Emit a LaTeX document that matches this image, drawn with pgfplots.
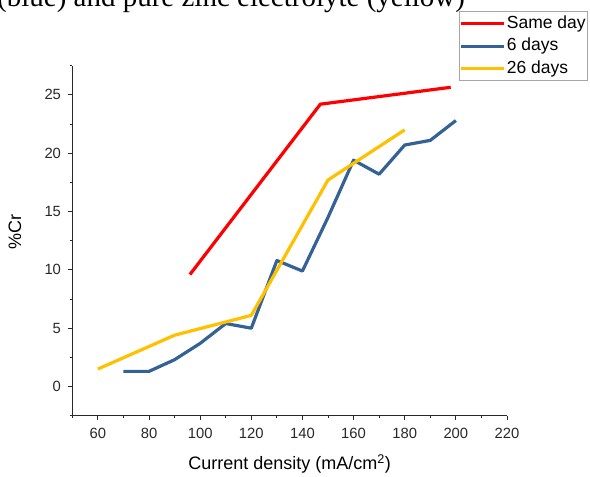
\documentclass[border=0pt]{standalone}
\usepackage{pgfplots}
\pgfplotsset{compat=1.18}
\usepackage{fontspec}
\setmainfont{Liberation Sans}
\newfontfamily\captionserif{Liberation Serif}

\definecolor{cRed}{RGB}{255,0,0}
\definecolor{cBlue}{RGB}{52,98,150}
\definecolor{cYellow}{RGB}{255,192,0}
\definecolor{axisgray}{RGB}{40,40,40}

\begin{document}
\begin{tikzpicture}
% caption line of the surrounding text, partly cut by the page edge
\node[anchor=base west, inner sep=0pt, font=\captionserif\fontsize{29bp}{34bp}\selectfont]
  at (-3bp,470.5bp) {(blue) and pure zinc electrolyte (yellow)};

\begin{axis}[
  at={(72.3bp,61.3bp)}, anchor=south west,
  scale only axis, width=434.7bp, height=350bp,
  xmin=50, xmax=220, ymin=-2.5, ymax=27.5,
  axis x line*=bottom, axis y line*=left,
  axis line style={axisgray, line width=0.9bp},
  tick align=outside,
  tick style={axisgray, line width=0.9bp},
  major tick length=4.3bp, minor tick length=2.7bp,
  xtick={60,80,...,220}, minor xtick={50,70,...,210},
  ytick={0,5,...,25}, minor ytick={-2.5,2.5,...,27.5},
  /pgf/number format/assume math mode=true,
  ticklabel style={font=\fontsize{14.8bp}{17bp}\selectfont, text=axisgray},
  xticklabel style={anchor=north, yshift=-5bp},
  yticklabel style={anchor=east, xshift=-3.5bp},
  xlabel={Current density (mA/cm\textsuperscript{2})},
  ylabel={\%Cr},
  label style={font=\fontsize{18bp}{21bp}\selectfont, text=black},
  xlabel style={at={(axis description cs:0.5,-0.1551)}, anchor=base},
  ylabel style={at={(axis description cs:-0.118,0.526)}, anchor=base, rotate=0},
  legend style={
    at={(axis description cs:0.8896,1.1563)}, anchor=north west,
    draw=gray!70, line width=0.8bp, fill=white,
    inner xsep=0pt, inner ysep=1bp,
    font=\fontsize{17.5bp}{20bp}\selectfont,
    nodes={inner xsep=1.7bp, inner ysep=3.25bp, text height=12.5bp, text depth=3.5bp},
    row sep=0pt, column sep=0pt,
  },
  legend cell align=left,
  legend image code/.code={\draw[#1] (0bp,0bp) -- (42.6bp,0bp);},
  every axis plot/.append style={line width=3.2bp, line join=round},
  clip=false,
]
\addplot[cRed] coordinates {(96,9.6) (147,24.2) (198,25.65)};
\addlegendentry{Same day}
\addplot[cBlue] coordinates {
  (70,1.3) (80,1.3) (90,2.3) (100,3.7) (110,5.4) (120,5.0) (130,10.8)
  (140,9.9) (150,14.5) (160,19.4) (170,18.2) (180,20.7) (190,21.1) (200,22.8)};
\addlegendentry{6 days}
\addplot[cYellow] coordinates {(60,1.5) (90,4.4) (120,6.1) (150,17.7) (180,22.0)};
\addlegendentry{26 days}
\end{axis}
\pgfresetboundingbox
\useasboundingbox (0bp,0bp) rectangle (590bp,477bp);
\end{tikzpicture}
\end{document}
